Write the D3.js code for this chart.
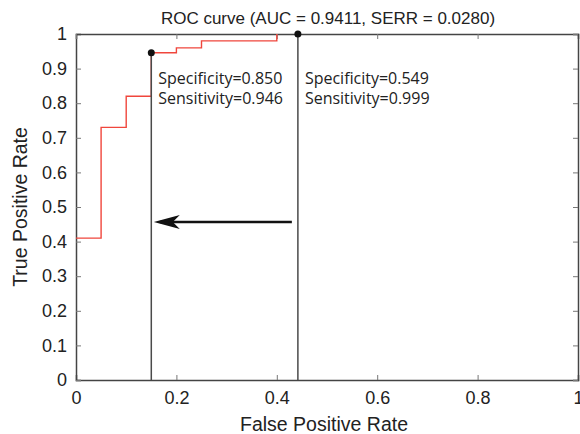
<!DOCTYPE html>
<html>
<head>
<meta charset="utf-8">
<script src="https://cdn.jsdelivr.net/npm/d3@7"></script>
<style>
  body { margin: 0; background: #fff; }
  text { font-family: "Liberation Sans", Arial, sans-serif; fill: #222; }
</style>
</head>
<body>
<div id="drawArea"></div>
<script>
// roc curve steps (false positive rate, true positive rate)
var rocFpr = [0, 0.05, 0.05, 0.10, 0.10, 0.15, 0.15, 0.20, 0.20, 0.25, 0.25, 0.40, 0.40];
var rocTpr = [0.41, 0.41, 0.73, 0.73, 0.82, 0.82, 0.946, 0.946, 0.96, 0.96, 0.98, 0.98, 1.0];

// the two operating points
var cutFpr = [0.15, 0.442];
var cutTpr = [0.946, 1.0];
var cutSpec = ["0.850", "0.549"];
var cutSens = ["0.946", "0.999"];

// arrow from the right cut to the left one
var arrowFrom = [0.43, 0.457];
var arrowTo = [0.155, 0.457];

var xTicks = [0, 0.2, 0.4, 0.6, 0.8, 1];
var yTicks = [0, 0.1, 0.2, 0.3, 0.4, 0.5, 0.6, 0.7, 0.8, 0.9, 1];

var titleText = "ROC curve (AUC = 0.9411, SERR = 0.0280)";

var margin = {top: 34, right: 2, bottom: 54, left: 76},
    width = 580 - margin.left - margin.right,
    height = 434 - margin.top - margin.bottom;

var svg = d3.select("#drawArea").append("svg")
  .attr("width", 580).attr("height", 434);
var g = svg.append("g")
  .attr("transform", "translate(" + margin.left + "," + margin.top + ")");

var x = d3.scaleLinear().domain([0, 1]).range([0, width]);
var y = d3.scaleLinear().domain([0, 1]).range([height, 0]);

var fmt = function(d){ return d === 0 || d === 1 ? String(d) : d3.format(".1f")(d); };

// axes, ticks pointing inwards, mirrored on top/right
var ax = g.append("g").attr("transform", "translate(0," + height + ")")
  .call(d3.axisBottom(x).tickValues(xTicks).tickSize(-5).tickPadding(8).tickFormat(fmt));
var ay = g.append("g")
  .call(d3.axisLeft(y).tickValues(yTicks).tickSize(-5).tickPadding(9).tickFormat(fmt));
var axT = g.append("g")
  .call(d3.axisTop(x).tickValues(xTicks).tickSize(-5).tickFormat(""));
var ayR = g.append("g").attr("transform", "translate(" + width + ",0)")
  .call(d3.axisRight(y).tickValues(yTicks).tickSize(-5).tickFormat(""));

[ax, ay, axT, ayR].forEach(function(a){
  a.select(".domain").attr("stroke", "#444").attr("stroke-width", 1.5);
  a.selectAll(".tick line").attr("stroke", "#777");
  a.selectAll(".tick text").attr("font-size", 18).attr("fill", "#222")
    .attr("font-family", "Liberation Sans, Arial, sans-serif");
});
ax.selectAll(".tick text").attr("dy", "0.9em");

// roc curve
var roc = rocFpr.map(function(d, i){ return [d, rocTpr[i]]; });
g.append("path")
  .datum(roc)
  .attr("fill", "none")
  .attr("stroke", "#f0463c")
  .attr("stroke-width", 1.4)
  .attr("d", d3.line().x(function(d){ return x(d[0]); }).y(function(d){ return y(d[1]); }));

// vertical cut lines and points
g.selectAll(".cut").data(cutFpr).enter().append("line")
  .attr("x1", function(d){ return x(d); }).attr("x2", function(d){ return x(d); })
  .attr("y1", function(d, i){ return y(cutTpr[i]); }).attr("y2", y(0))
  .attr("stroke", "#4a4a4a").attr("stroke-width", 1.5);

g.selectAll(".pt").data(cutFpr).enter().append("circle")
  .attr("cx", function(d){ return x(d); })
  .attr("cy", function(d, i){ return y(cutTpr[i]); })
  .attr("r", 3.5).attr("fill", "#111");

// annotations
cutFpr.forEach(function(d, i){
  var t = g.append("text")
    .attr("x", x(d) + 7).attr("y", 84 - margin.top)
    .attr("font-size", 16)
    .style("font-family", "Open Sans, sans-serif");
  t.append("tspan").text("Specificity=" + cutSpec[i]);
  t.append("tspan").attr("x", x(d) + 7).attr("dy", 20).text("Sensitivity=" + cutSens[i]);
});

// arrow
g.append("line")
  .attr("x1", x(arrowFrom[0])).attr("y1", y(arrowFrom[1]))
  .attr("x2", x(arrowTo[0]) + 6).attr("y2", y(arrowTo[1]))
  .attr("stroke", "#111").attr("stroke-width", 2.5);
g.append("path")
  .attr("d", "M" + x(arrowTo[0]) + "," + y(arrowTo[1]) + " l26,-7 l-7,7 l7,7 Z")
  .attr("fill", "#111");

// title and labels
svg.append("text")
  .attr("x", margin.left + width / 2 + 1).attr("y", 24)
  .attr("text-anchor", "middle").attr("font-size", 17)
  .text(titleText);

svg.append("text")
  .attr("x", margin.left + width / 2 - 3).attr("y", 431)
  .attr("text-anchor", "middle").attr("font-size", 19.5)
  .text("False Positive Rate");

svg.append("text")
  .attr("transform", "translate(27," + (margin.top + height / 2) + ") rotate(-90)")
  .attr("text-anchor", "middle").attr("font-size", 19.5)
  .text("True Positive Rate");
</script>
</body>
</html>
